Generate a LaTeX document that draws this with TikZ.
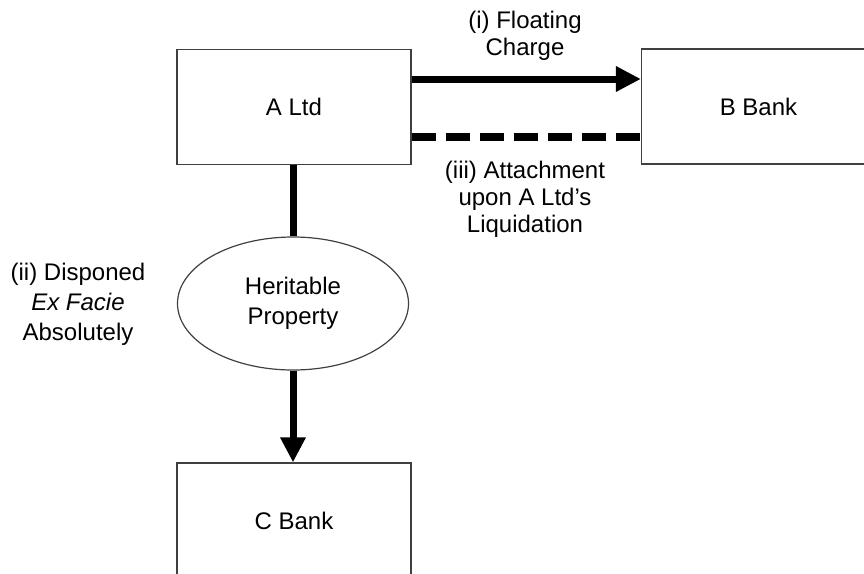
\documentclass[tikz,border=0pt]{standalone}
\usepackage{fontspec}
\setmainfont{Liberation Sans}
\usetikzlibrary{arrows.meta,shapes.geometric}
\begin{document}
\begin{tikzpicture}[x=1pt,y=-1pt,
  box/.style={draw=black!75,line width=1.2pt,minimum width=234pt,minimum height=115pt,inner sep=0pt,font=\fontsize{24}{28}\selectfont},
  oval/.style={ellipse,draw=black!75,line width=1.2pt,minimum width=231pt,minimum height=133pt,inner sep=0pt,align=center,font=\fontsize{24}{30}\selectfont},
  lbl/.style={align=center,inner sep=0pt,font=\fontsize{24}{27}\selectfont},
  thick line/.style={line width=7pt},
  head/.style={-{Triangle[length=25pt,width=24pt]}}]
\useasboundingbox (0,0) rectangle (864,573);
\begin{scope}
\clip (0,0) rectangle (864,573);
\node[box] (A) at (294,107) {A Ltd};
\node[box] (B) at (758.5,106.5) {B Bank};
\node[box] (C) at (294,520.5) {C Bank};
\node[oval] (H) at (293,303.5) {Heritable\\Property};
\end{scope}
\node[lbl] (l1) at (525,36) {(i) Floating\\Charge};
\node[lbl] (l3) at (525,199) {(iii) Attachment\\upon A Ltd’s\\Liquidation};
\node[lbl,font=\fontsize{24}{30}\selectfont] (l2) at (78,304) {(ii) Disponed\\\textit{Ex Facie}\\Absolutely};
\draw[thick line,head] (A.east |- 0,79) -- (B.west |- 0,79);
\draw[line width=8pt,dash pattern=on 24pt off 10pt] (A.east |- 0,137) -- (B.west |- 0,137);
\draw[thick line] (A.south -| H.north) -- (H.north);
\draw[thick line,head] (H.south) -- (C.north -| H.south);
\end{tikzpicture}
\end{document}
